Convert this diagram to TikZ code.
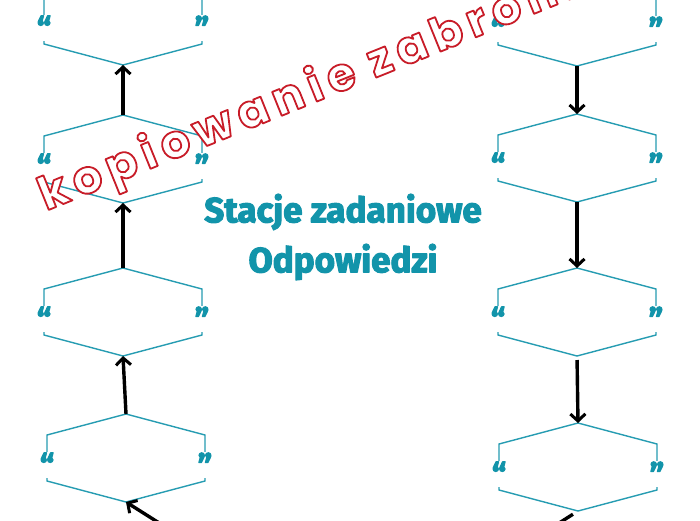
\documentclass[tikz,border=0pt]{standalone}
\usepackage{fontspec}
\usetikzlibrary{arrows.meta}
\newfontfamily\titlefont{Fira Sans}
\newfontfamily\wmfont[LetterSpace=15]{Poppins}
\definecolor{hexcol}{RGB}{38,156,178}
\definecolor{titlecol}{RGB}{18,148,170}
\definecolor{wmred}{RGB}{200,28,40}
\newcommand\hexa[3]{%
  \coordinate (#1t) at (#2,#3);
  \coordinate (#1b) at (#2,#3+88);
  \draw[hexline] (#1t) -- ++(79,21) -- ++(0,46) -- (#1b) -- ++(-79,-21) -- ++(0,-46) -- cycle;
  \node[quotemark] (#1ql) at (#2-79,#3+44) {\heavytext{“}};
  \node[quotemark] (#1qr) at (#2+79,#3+44) {\heavytext{”}};
}
\newcommand\outlinetext[1]{{\color{white}\special{pdf:code 0.784 0.11 0.157 RG 1.8 w 1 j 2 Tr}#1\special{pdf:code 0 Tr}}}
\newcommand\heavytext[1]{{\special{pdf:code 1.1 w 1 j 2 Tr}#1\special{pdf:code 0 Tr}}}
\begin{document}
\begin{tikzpicture}[x=1pt,y=-1pt,
  hexline/.style={draw=hexcol,line width=1.4pt,line join=miter},
  quotemark/.style={fill=white,inner sep=0.5pt,text=titlecol,font=\titlefont\bfseries\fontsize{32}{32}\selectfont,yshift=-7pt},
  conn/.style={line width=3.4pt,-{Straight Barb[length=7pt,width=15pt,line width=3pt]}},
  plainconn/.style={line width=3.4pt},
  titletext/.style={text=titlecol,font=\titlefont\bfseries\fontsize{35}{38}\selectfont},
  wm/.style={inner sep=0pt,font=\wmfont\bfseries\fontsize{46}{46}\selectfont}]
\useasboundingbox (0,0) rectangle (700,520);
\clip (0,0) rectangle (700,520);
\fill[white] (0,0) rectangle (700,520);
% left column
\hexa{L1}{123}{-23}
\hexa{L2}{123}{115}
\hexa{L3}{123}{268}
\hexa{L4}{126}{414}
% right column
\hexa{R1}{577}{-22}
\hexa{R2}{577}{114}
\hexa{R3}{577}{268}
\hexa{R4}{578}{423}
% connectors
\draw[conn] (L2t) -- (L1b);
\draw[conn] (L3t) -- (L2b);
\draw[conn] (L4t) -- (L3b);
\coordinate (Lin) at (175,533);
\draw[conn] (Lin) -- (L4b);
\draw[conn] (R1b) -- (R2t);
\draw[conn] (R2b) -- (R3t);
\draw[conn,shorten <=4pt] (R3b) -- (R4t);
\coordinate (Rout) at (545,532);
\draw[plainconn,shorten <=6pt] (R4b) -- (Rout);
% title
\node[titletext] (t1) at (343,212) {\heavytext{Stacje zadaniowe}};
\node[titletext] (t2) at (343,262) {\heavytext{Odpowiedzi}};
% watermark
\node[wm,rotate=22,anchor=base west] (wmk) at (46,211) {\outlinetext{kopiowanie zabronione}};
\end{tikzpicture}
\end{document}
